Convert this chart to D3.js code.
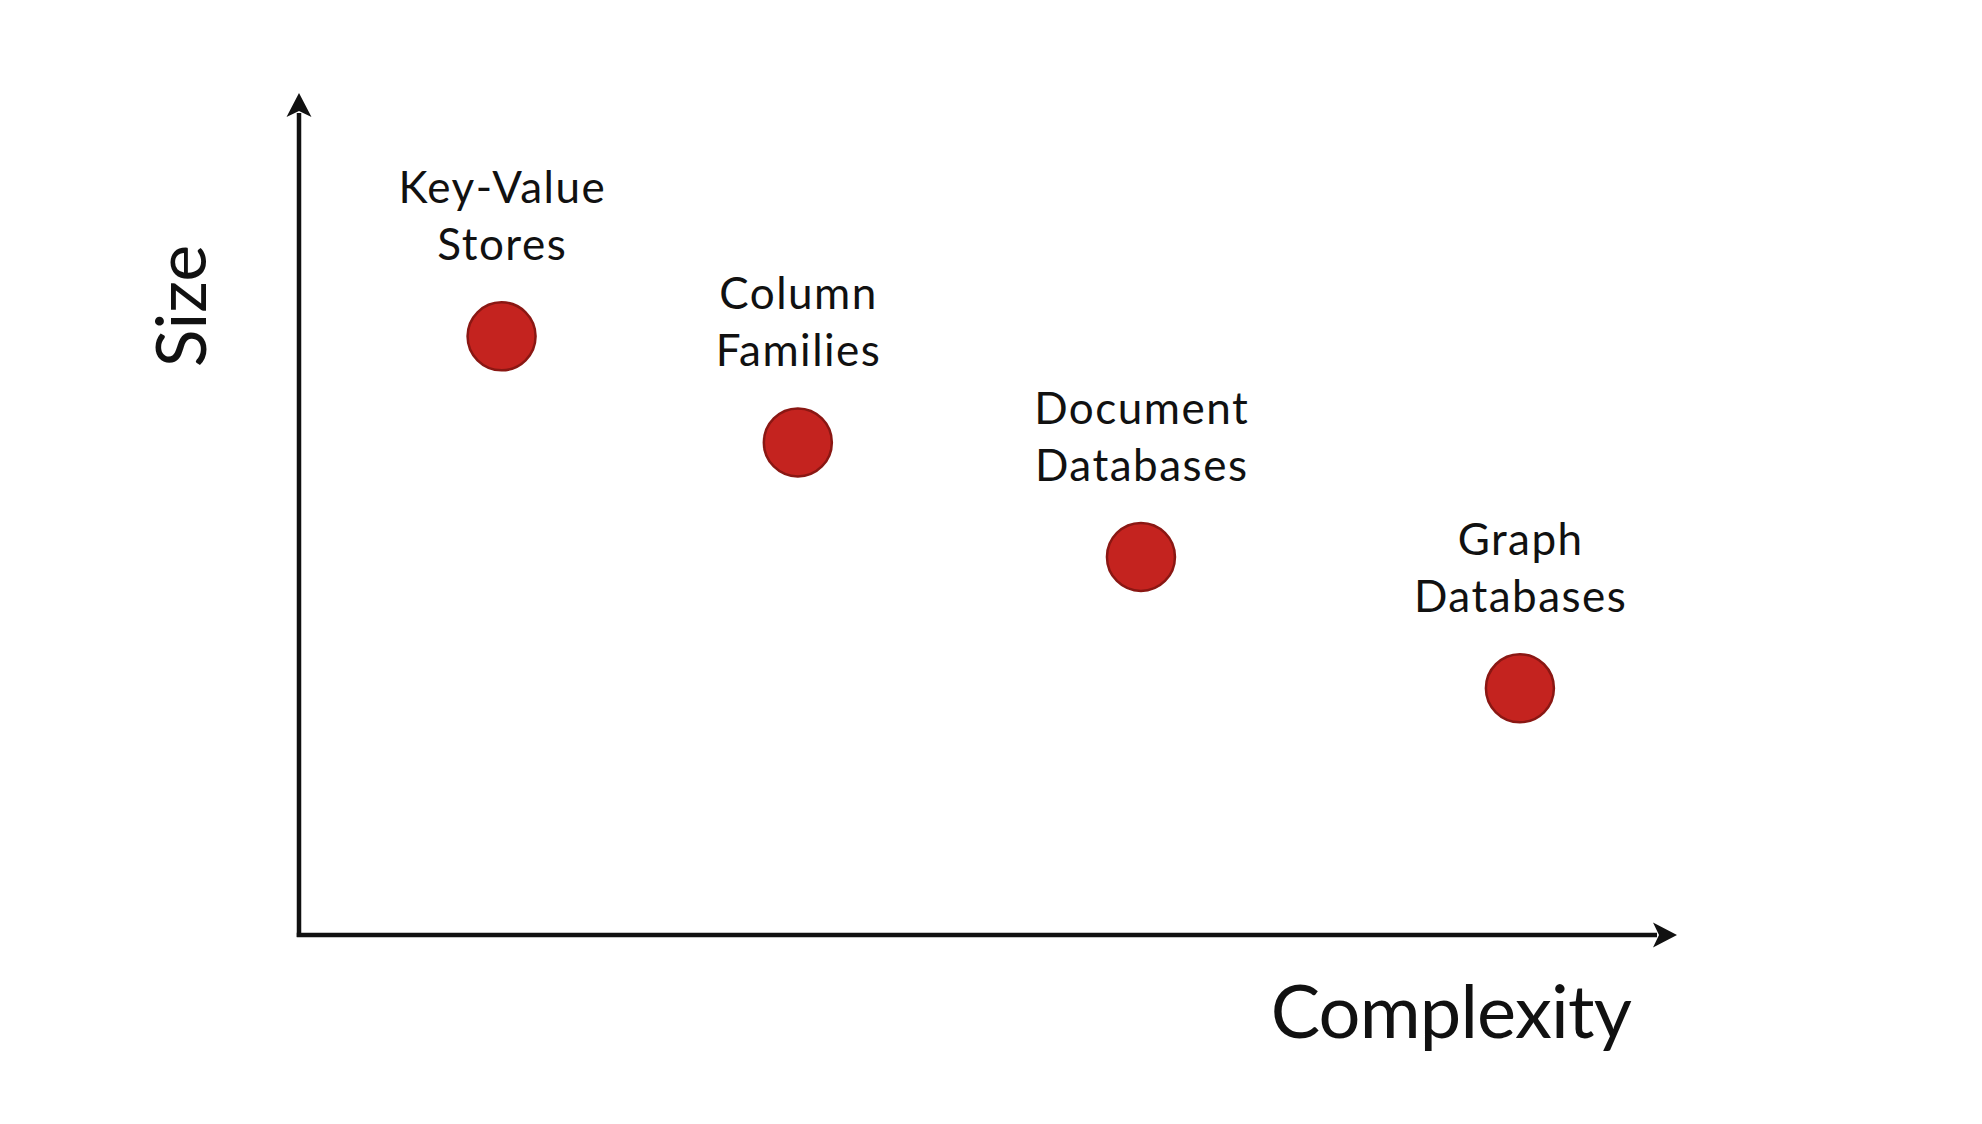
<!DOCTYPE html>
<html>
<head>
<meta charset="utf-8">
<script src="https://cdn.jsdelivr.net/npm/d3@7"></script>
<style>
  html, body { margin: 0; padding: 0; background: #ffffff; }
  svg { display: block; }
  text { font-family: "Lato", "Noto Sans", sans-serif; fill: #111; }
</style>
</head>
<body>
<svg id="chart" width="1982" height="1124"></svg>
<script>
// ---- data ----
const categories = [
  ["Key-Value", "Stores"],
  ["Column", "Families"],
  ["Document", "Databases"],
  ["Graph", "Databases"]
];
const complexityValues = [1.47, 3.62, 6.11, 8.86];
const sizeValues = [7.11, 5.85, 4.49, 2.93];
const xAxisTitle = "Complexity";
const yAxisTitle = "Size";

// ---- layout ----
const W = 1982, H = 1124;
const origin = { x: 299, y: 935 };
const xEnd = 1677, yEnd = 93;

const svg = d3.select("#chart");
svg.append("rect").attr("width", W).attr("height", H).attr("fill", "#fff");

const x = d3.scaleLinear().domain([0, 10]).range([origin.x, xEnd]);
const y = d3.scaleLinear().domain([0, 10]).range([origin.y, yEnd]);

const axisColor = "#111";
const arrowLen = 24, arrowHalf = 12.5;

// axes lines
svg.append("line")
  .attr("x1", x(0)).attr("y1", y(0) + 2)
  .attr("x2", x(0)).attr("y2", y(10) + arrowLen - 4)
  .attr("stroke", axisColor).attr("stroke-width", 4.5);
svg.append("line")
  .attr("x1", x(0) - 2.25).attr("y1", y(0))
  .attr("x2", x(10) - arrowLen + 4).attr("y2", y(0))
  .attr("stroke", axisColor).attr("stroke-width", 4.5);

// arrowheads
const ytip = [x(0), y(10)];
svg.append("path")
  .attr("d", `M${ytip[0]},${ytip[1]} L${ytip[0] + arrowHalf},${ytip[1] + arrowLen} L${ytip[0]},${ytip[1] + arrowLen - 6} L${ytip[0] - arrowHalf},${ytip[1] + arrowLen} Z`)
  .attr("fill", axisColor);
const xtip = [x(10), y(0)];
svg.append("path")
  .attr("d", `M${xtip[0]},${xtip[1]} L${xtip[0] - arrowLen},${xtip[1] - arrowHalf} L${xtip[0] - arrowLen + 6},${xtip[1]} L${xtip[0] - arrowLen},${xtip[1] + arrowHalf} Z`)
  .attr("fill", axisColor);

// axis titles
svg.append("text")
  .attr("x", 1631).attr("y", 1038)
  .attr("text-anchor", "end")
  .attr("font-size", 74)
  .attr("letter-spacing", -0.8)
  .text(xAxisTitle);

svg.append("text")
  .attr("transform", "translate(206,306) rotate(-90)")
  .attr("text-anchor", "middle")
  .attr("font-size", 70)
  .text(yAxisTitle);

// points
const data = categories.map((c, i) => ({ label: c, cx: complexityValues[i], cy: sizeValues[i] }));

svg.selectAll("circle.pt")
  .data(data).join("circle")
  .attr("class", "pt")
  .attr("cx", d => x(d.cx))
  .attr("cy", d => y(d.cy))
  .attr("r", 34)
  .attr("fill", "#c4231f")
  .attr("stroke", "#8a1713")
  .attr("stroke-width", 2.5);

const labels = svg.selectAll("g.lbl").data(data).join("g").attr("class", "lbl");
[0, 1].forEach(line => {
  labels.append("text")
    .attr("x", d => x(d.cx) + 0.75)
    .attr("y", d => y(d.cy) - (line === 0 ? 133 : 76))
    .attr("text-anchor", "middle")
    .attr("font-size", 44)
    .attr("letter-spacing", 1.5)
    .text(d => d.label[line]);
});
</script>
</body>
</html>
